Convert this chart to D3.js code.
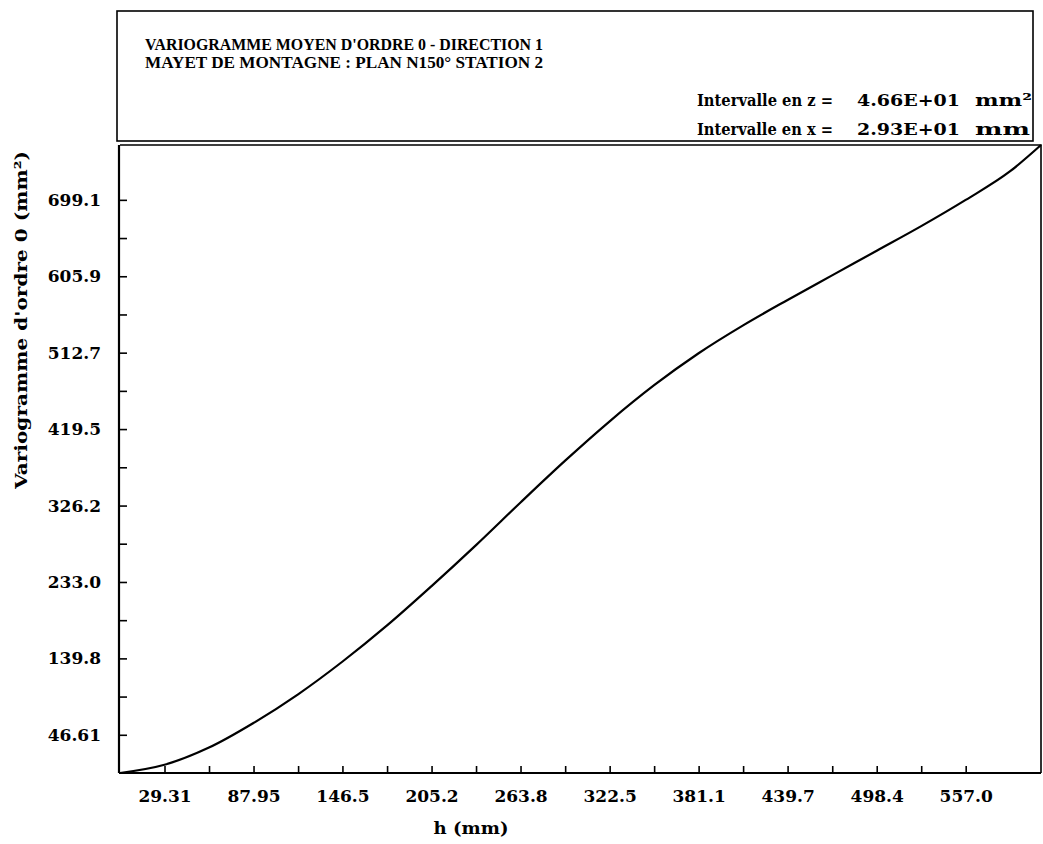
<!DOCTYPE html>
<html>
<head>
<meta charset="utf-8">
<script src="https://d3js.org/d3.v7.min.js"></script>
<style>
  html, body { margin: 0; padding: 0; background: #fff; }
  svg { display: block; }
  text { fill: #000; }
</style>
</head>
<body>
<svg id="chart" width="1043" height="844"></svg>
<script>
// Mean variogram of order 0 along direction 1, sampled once per lag interval
const hValues = [0, 29.3, 58.6, 87.9, 117.3, 146.6, 175.9, 205.2, 234.5, 263.8, 293.2,
                 322.5, 351.8, 381.1, 410.4, 439.7, 469.0, 498.4, 527.7, 557.0, 586.3, 606.6];
const gammaValues = [0, 10, 31, 61, 96, 136, 180, 228, 278, 330, 381,
                     429, 473, 512, 546, 577, 607, 637, 667, 699, 734, 766];

// Axis ticks: one tick per interval, a label on every other one
const xTickValues = [29.31, 58.63, 87.95, 117.3, 146.5, 175.9, 205.2, 234.5, 263.8, 293.2,
                     322.5, 351.8, 381.1, 410.4, 439.7, 469.1, 498.4, 527.7, 557.0];
const xTickLabels = ["29.31", "", "87.95", "", "146.5", "", "205.2", "", "263.8", "",
                     "322.5", "", "381.1", "", "439.7", "", "498.4", "", "557.0"];
const yTickValues = [46.61, 93.22, 139.8, 186.4, 233.0, 279.7, 326.2, 372.9, 419.5, 466.1,
                     512.7, 559.3, 605.9, 652.5, 699.1];
const yTickLabels = ["46.61", "", "139.8", "", "233.0", "", "326.2", "", "419.5", "",
                     "512.7", "", "605.9", "", "699.1"];

const xDomain = [0, 606.6];
const yDomain = [0, 766.0];

const titleLines = ["VARIOGRAMME MOYEN D'ORDRE 0 - DIRECTION 1",
                    "MAYET DE MONTAGNE : PLAN N150° STATION 2"];
const intervalLabels = ["Intervalle en z =", "Intervalle en x ="];
const intervalValues = ["4.66E+01", "2.93E+01"];
const intervalUnits = ["mm²", "mm"];

const svg = d3.select("#chart");
const FONT = "'DejaVu Serif', 'Liberation Serif', serif";

const plot = { left: 120, right: 1041, top: 145, bottom: 773 };

const x = d3.scaleLinear().domain(xDomain).range([plot.left, plot.right]);
const y = d3.scaleLinear().domain(yDomain).range([plot.bottom, plot.top]);

// Header box
svg.append("rect")
  .attr("x", 117).attr("y", 11)
  .attr("width", 916).attr("height", 130)
  .attr("fill", "none").attr("stroke", "#000").attr("stroke-width", 1.6);

const titleG = svg.append("g")
  .attr("font-family", "'Liberation Serif', serif")
  .attr("font-weight", "bold")
  .attr("font-size", 17);
titleLines.forEach((t, i) => {
  titleG.append("text")
    .attr("x", 145).attr("y", 50 + i * 18)
    .attr("textLength", 398)
    .attr("lengthAdjust", "spacingAndGlyphs")
    .text(t);
});

const infoG = svg.append("g")
  .attr("font-family", FONT)
  .attr("font-weight", "bold")
  .attr("font-size", 17);
intervalLabels.forEach((t, i) => {
  const by = 106 + i * 29;
  infoG.append("text").attr("x", 697).attr("y", by)
    .attr("textLength", 136).attr("lengthAdjust", "spacingAndGlyphs").text(t);
  infoG.append("text").attr("x", 857).attr("y", by)
    .attr("textLength", 103).attr("lengthAdjust", "spacingAndGlyphs").text(intervalValues[i]);
  infoG.append("text").attr("x", 975).attr("y", by)
    .attr("textLength", i === 0 ? 57 : 55).attr("lengthAdjust", "spacingAndGlyphs").text(intervalUnits[i]);
});

// Plot frame (top and right sides)
svg.append("path")
  .attr("d", `M${plot.left},${plot.top}H${plot.right}V${plot.bottom}`)
  .attr("fill", "none").attr("stroke", "#000").attr("stroke-width", 1.6);

// Bottom axis
const xAxis = d3.axisBottom(x)
  .tickValues(xTickValues)
  .tickSize(-7)
  .tickPadding(17)
  .tickFormat((d, i) => xTickLabels[i]);
const gx = svg.append("g")
  .attr("transform", `translate(0,${plot.bottom})`)
  .call(xAxis);
gx.select(".domain").attr("d", `M${plot.left - 1},0H${plot.right}`).attr("stroke-width", 2.2);
gx.selectAll(".tick line").attr("stroke-width", 1.6);
gx.selectAll(".tick text")
  .attr("font-family", FONT).attr("font-weight", "bold").attr("font-size", 17);

// Left axis
const yAxis = d3.axisLeft(y)
  .tickValues(yTickValues)
  .tickSize(-8)
  .tickPadding(18)
  .tickFormat((d, i) => yTickLabels[i]);
const gy = svg.append("g")
  .attr("transform", `translate(${plot.left - 1},0)`)
  .call(yAxis);
gy.select(".domain").attr("d", `M0,${plot.top}V${plot.bottom}`).attr("stroke-width", 2.2);
gy.selectAll(".tick line").attr("stroke-width", 1.6);
gy.selectAll(".tick text")
  .attr("font-family", FONT).attr("font-weight", "bold").attr("font-size", 17);

// Axis titles
svg.append("text")
  .attr("x", 471).attr("y", 834)
  .attr("text-anchor", "middle")
  .attr("font-family", FONT).attr("font-weight", "bold").attr("font-size", 17)
  .attr("textLength", 75).attr("lengthAdjust", "spacingAndGlyphs")
  .text("h (mm)");

svg.append("text")
  .attr("transform", "translate(27,320) rotate(-90)")
  .attr("text-anchor", "middle")
  .attr("font-family", FONT).attr("font-weight", "bold").attr("font-size", 17)
  .attr("textLength", 338).attr("lengthAdjust", "spacingAndGlyphs")
  .text("Variogramme d'ordre 0 (mm²)");

// Variogram curve
const data = hValues.map((h, i) => ({ h, g: gammaValues[i] }));
const line = d3.line()
  .x(d => x(d.h))
  .y(d => y(d.g))
  .curve(d3.curveMonotoneX);

svg.append("path")
  .datum(data)
  .attr("d", line)
  .attr("fill", "none")
  .attr("stroke", "#000")
  .attr("stroke-width", 2.2)
  .attr("stroke-linejoin", "round");
</script>
</body>
</html>
